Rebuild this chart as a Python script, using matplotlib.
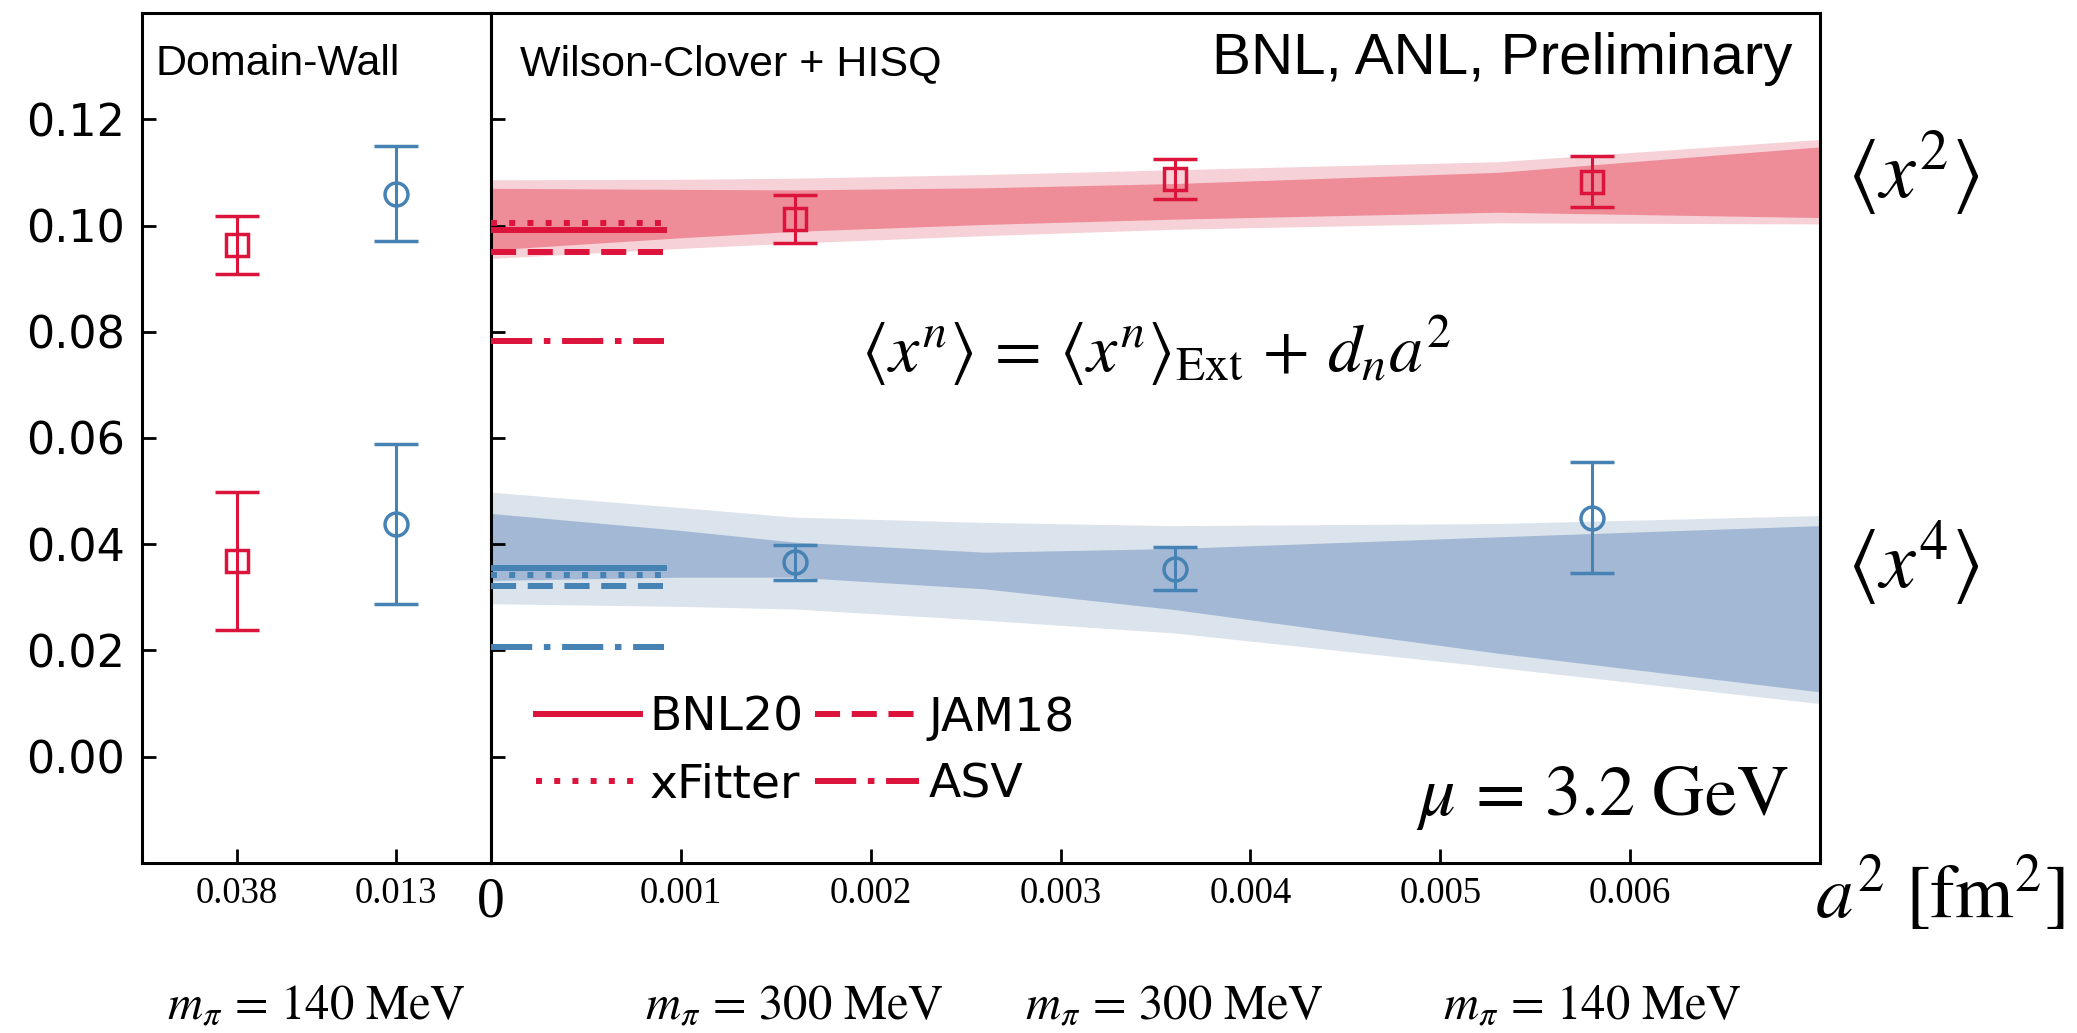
import matplotlib
matplotlib.use('Agg')
import matplotlib.pyplot as plt
from matplotlib.transforms import blended_transform_factory
from matplotlib.ticker import FormatStrFormatter

plt.rcParams['mathtext.fontset'] = 'stix'
plt.rcParams['font.family'] = ['DejaVu Sans']

RED = '#DC143C'
BLUE = '#4682B4'
RED_DARK = '#EE8C98'
RED_LIGHT = '#F6D1D7'
BLUE_DARK = '#A3B8D4'
BLUE_LIGHT = '#DBE4EC'

# ---------------- data ----------------
# Domain-Wall panel (categorical a^2 labels)
dw_labels = ['0.038', '0.013']
dw_pos = [0, 1]
dw_x2_val = [0.0963, 0.1060]
dw_x2_err = [0.0055, 0.0089]
dw_x4_val = [0.0368, 0.0438]
dw_x4_err = [0.0130, 0.0150]

# Wilson-Clover + HISQ panel
wc_a2 = [0.0016, 0.0036, 0.0058]
wc_x2_val = [0.1013, 0.1088, 0.1082]
wc_x2_err = [0.0045, 0.0038, 0.0048]
wc_x4_val = [0.0366, 0.0354, 0.0450]
wc_x4_err = [0.0033, 0.0040, 0.0104]
wc_mpi = ['140', '300', '300', '140']

# extrapolation bands
band_a2 = [0.0, 0.001, 0.0016, 0.0026, 0.0036, 0.0053, 0.007]
x2_light_hi = [0.1086, 0.1087, 0.1089, 0.1096, 0.1105, 0.1120, 0.1162]
x2_dark_hi = [0.1070, 0.1068, 0.1067, 0.1071, 0.1079, 0.1100, 0.1148]
x2_dark_lo = [0.0954, 0.0977, 0.0989, 0.1002, 0.1012, 0.1025, 0.1015]
x2_light_lo = [0.0938, 0.0957, 0.0967, 0.0981, 0.0993, 0.1005, 0.1003]
x4_light_hi = [0.0498, 0.0469, 0.0451, 0.0441, 0.0435, 0.0439, 0.0454]
x4_dark_hi = [0.0458, 0.0426, 0.0404, 0.0385, 0.0392, 0.0414, 0.0435]
x4_dark_lo = [0.0332, 0.0338, 0.0338, 0.0316, 0.0277, 0.0195, 0.0122]
x4_light_lo = [0.0288, 0.0283, 0.0278, 0.0257, 0.0233, 0.0168, 0.0100]

# phenomenology reference values
ref_names = ['BNL20', 'xFitter', 'JAM18', 'ASV']
ref_x2 = [0.0992, 0.1005, 0.0950, 0.0782]
ref_x4 = [0.0355, 0.0343, 0.0322, 0.0207]
ref_extent = [0.0, 0.00091]

y_ticks = [0.00, 0.02, 0.04, 0.06, 0.08, 0.10, 0.12]
wc_ticks = [0, 0.001, 0.002, 0.003, 0.004, 0.005, 0.006]
wc_ticklabels = ['0', '0.001', '0.002', '0.003', '0.004', '0.005', '0.006']

# ---------------- figure ----------------
fig = plt.figure(figsize=(20.77, 10.33), dpi=100)
axL = fig.add_axes([0.0684, 0.1646, 0.1680, 0.8228])
axR = fig.add_axes([0.2364, 0.1646, 0.6399, 0.8228])

for ax in (axL, axR):
    ax.set_ylim(-0.02, 0.14)
    ax.set_yticks(y_ticks)
    for sp in ax.spines.values():
        sp.set_linewidth(2.2)
    ax.tick_params(direction='in', length=10, width=2.0)

axL.set_xlim(-0.6, 1.6)
axR.set_xlim(0, 0.007)

ekw = dict(capsize=16, elinewidth=2.2, capthick=2.8, markersize=16.5,
           markeredgewidth=2.5, markerfacecolor='none', linestyle='none')

# Domain-wall points
axL.errorbar([dw_pos[0]], [dw_x2_val[0]], yerr=[dw_x2_err[0]], marker='s', color=RED, **ekw)
axL.errorbar([dw_pos[0]], [dw_x4_val[0]], yerr=[dw_x4_err[0]], marker='s', color=RED, **ekw)
axL.errorbar([dw_pos[1]], [dw_x2_val[1]], yerr=[dw_x2_err[1]], marker='o', color=BLUE, **ekw)
axL.errorbar([dw_pos[1]], [dw_x4_val[1]], yerr=[dw_x4_err[1]], marker='o', color=BLUE, **ekw)

axL.set_xticks(dw_pos)
axL.set_xticklabels(dw_labels)
axL.yaxis.set_major_formatter(FormatStrFormatter('%.2f'))
axL.tick_params(axis='y', labelsize=32, pad=12)
axL.tick_params(axis='x', labelsize=26.5, pad=10)
for lab in axL.get_xticklabels():
    lab.set_fontfamily('Liberation Serif')

# bands
axR.fill_between(band_a2, x2_light_lo, x2_light_hi, color=RED_LIGHT, lw=0, zorder=1)
axR.fill_between(band_a2, x2_dark_lo, x2_dark_hi, color=RED_DARK, lw=0, zorder=1.1)
axR.fill_between(band_a2, x4_light_lo, x4_light_hi, color=BLUE_LIGHT, lw=0, zorder=1)
axR.fill_between(band_a2, x4_dark_lo, x4_dark_hi, color=BLUE_DARK, lw=0, zorder=1.1)

# reference lines
ref_dashes = [None, (1.0, 2.05), (4.2, 1.95), (6.9, 1.95, 1.1, 1.95)]
LW = 4.3
for name, v2, v4, ds in zip(ref_names, ref_x2, ref_x4, ref_dashes):
    l1, = axR.plot(ref_extent, [v2, v2], color=RED, lw=LW, label=name, zorder=3)
    l2, = axR.plot(ref_extent, [v4, v4], color=BLUE, lw=LW, zorder=3)
    if ds is not None:
        l1.set_dashes(ds)
        l2.set_dashes(ds)

# WC points
axR.errorbar(wc_a2, wc_x2_val, yerr=wc_x2_err, marker='s', color=RED, zorder=4, **ekw)
axR.errorbar(wc_a2, wc_x4_val, yerr=wc_x4_err, marker='o', color=BLUE, zorder=4, **ekw)

axR.set_xticks(wc_ticks)
axR.set_xticklabels(wc_ticklabels)
axR.tick_params(axis='x', labelsize=26.5, pad=10)
axR.tick_params(axis='y', labelleft=False)
for lab in axR.get_xticklabels():
    lab.set_fontfamily('Liberation Serif')
axR.get_xticklabels()[0].set_fontsize(40)

leg = axR.legend(ncol=2, loc='center left', bbox_to_anchor=(0.034, 0.131),
                 frameon=False, fontsize=34, handlelength=2.2, handletextpad=0.2,
                 columnspacing=0.25, labelspacing=0.45, borderpad=0, borderaxespad=0)

# texts
fig.text(0.0751, 0.9274, 'Domain-Wall', fontsize=31, va='baseline', ha='left',
         family='Liberation Sans')
fig.text(0.2504, 0.9274, 'Wilson-Clover + HISQ', fontsize=31, va='baseline', ha='left',
         family='Liberation Sans')
fig.text(0.8628, 0.9288, 'BNL, ANL, Preliminary', fontsize=42, va='baseline', ha='right',
         family='Liberation Sans')
fig.text(0.8609, 0.211, r'$\mu\,=\,3.2\ \mathrm{GeV}$', fontsize=52, va='baseline', ha='right')
fig.text(0.5566, 0.661,
         r'$\langle x^n\rangle\,=\,\langle x^n\rangle_{\mathrm{Ext}}\,+\,d_n a^2$',
         fontsize=49, va='center', ha='center')
axR.text(0.00714, 0.1098, r'$\langle x^2\rangle$', fontsize=58, va='center', ha='left', clip_on=False)
axR.text(0.00714, 0.0365, r'$\langle x^4\rangle$', fontsize=58, va='center', ha='left', clip_on=False)
fig.text(0.934, 0.1346, r'$a^2\ [\mathrm{fm}^2]$', fontsize=54, va='center', ha='center')

# pion mass labels
trL = blended_transform_factory(axL.transAxes, fig.transFigure)
trR = blended_transform_factory(axR.transData, fig.transFigure)
fig.text(0.5, 0.027, r'$m_\pi\,=\,%s\ \mathrm{MeV}$' % wc_mpi[0], transform=trL,
         fontsize=35, ha='center', va='center')
for a2, mp in zip(wc_a2, wc_mpi[1:]):
    fig.text(a2, 0.027, r'$m_\pi\,=\,%s\ \mathrm{MeV}$' % mp, transform=trR,
             fontsize=35, ha='center', va='center')

fig.savefig('out.png', dpi=100)
